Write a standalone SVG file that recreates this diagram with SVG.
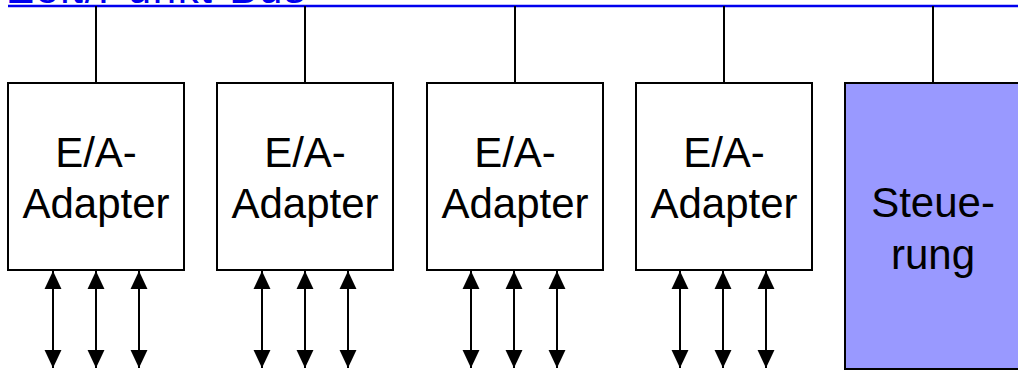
<svg xmlns="http://www.w3.org/2000/svg" width="1018" height="370" viewBox="0 0 1018 370">
  <defs>
    <marker id="head" viewBox="0 0 10 10" refX="10" refY="5" markerWidth="18" markerHeight="18" markerUnits="userSpaceOnUse" orient="auto-start-reverse">
      <path d="M0,0.3 L10,5 L0,9.7 z" fill="#000"/>
    </marker>
    <style>
      .box { fill: #fff; stroke: #000; stroke-width: 2; }
      .ctrl { fill: #9999ff; stroke: #000; stroke-width: 2; }
      .lbl { font-family: "Liberation Sans", Arial, sans-serif; font-size: 42px; fill: #000; text-anchor: middle; }
      .wire { stroke: #000; stroke-width: 2; fill: none; }
      .io { stroke: #000; stroke-width: 2; fill: none; marker-start: url(#head); marker-end: url(#head); }
      .bus { stroke: #0000ee; stroke-width: 2.5; }
      .title { font-family: "Liberation Sans", Arial, sans-serif; font-size: 42px; fill: #0000ee; }
    </style>
  </defs>

  <!-- bus label and bus line -->
  <g id="bus">
    <text class="title" x="8" y="3" textLength="297" lengthAdjust="spacing">Zeit/Punkt-Bus</text>
    <line class="bus" x1="8" y1="6" x2="1018" y2="6"/>
  </g>

  <!-- connectors -->
  <g id="connectors">
    <line class="wire" x1="96" y1="6" x2="96" y2="83"/>
    <line class="wire" x1="305" y1="6" x2="305" y2="83"/>
    <line class="wire" x1="515" y1="6" x2="515" y2="83"/>
    <line class="wire" x1="724" y1="6" x2="724" y2="83"/>
    <line class="wire" x1="933" y1="6" x2="933" y2="83"/>

    <path class="io" d="M53,271 V368"/>
    <path class="io" d="M96,271 V368"/>
    <path class="io" d="M139,271 V368"/>
    <path class="io" d="M262,271 V368"/>
    <path class="io" d="M305,271 V368"/>
    <path class="io" d="M348,271 V368"/>
    <path class="io" d="M471,271 V368"/>
    <path class="io" d="M514,271 V368"/>
    <path class="io" d="M557,271 V368"/>
    <path class="io" d="M680,271 V368"/>
    <path class="io" d="M723,271 V368"/>
    <path class="io" d="M766,271 V368"/>
  </g>

  <!-- E/A adapters -->
  <g id="adapter1">
    <rect class="box" x="8" y="83" width="176" height="187"/>
    <text class="lbl" x="96" y="167">E/A-</text>
    <text class="lbl" x="96" y="218">Adapter</text>
  </g>
  <g id="adapter2">
    <rect class="box" x="217" y="83" width="176" height="187"/>
    <text class="lbl" x="305" y="167">E/A-</text>
    <text class="lbl" x="305" y="218">Adapter</text>
  </g>
  <g id="adapter3">
    <rect class="box" x="427" y="83" width="176" height="187"/>
    <text class="lbl" x="515" y="167">E/A-</text>
    <text class="lbl" x="515" y="218">Adapter</text>
  </g>
  <g id="adapter4">
    <rect class="box" x="636" y="83" width="176" height="187"/>
    <text class="lbl" x="724" y="167">E/A-</text>
    <text class="lbl" x="724" y="218">Adapter</text>
  </g>

  <!-- controller -->
  <g id="steuerung">
    <rect class="ctrl" x="845" y="83" width="180" height="286"/>
    <text class="lbl" x="933" y="217">Steue-</text>
    <text class="lbl" x="933" y="269">rung</text>
  </g>
</svg>
